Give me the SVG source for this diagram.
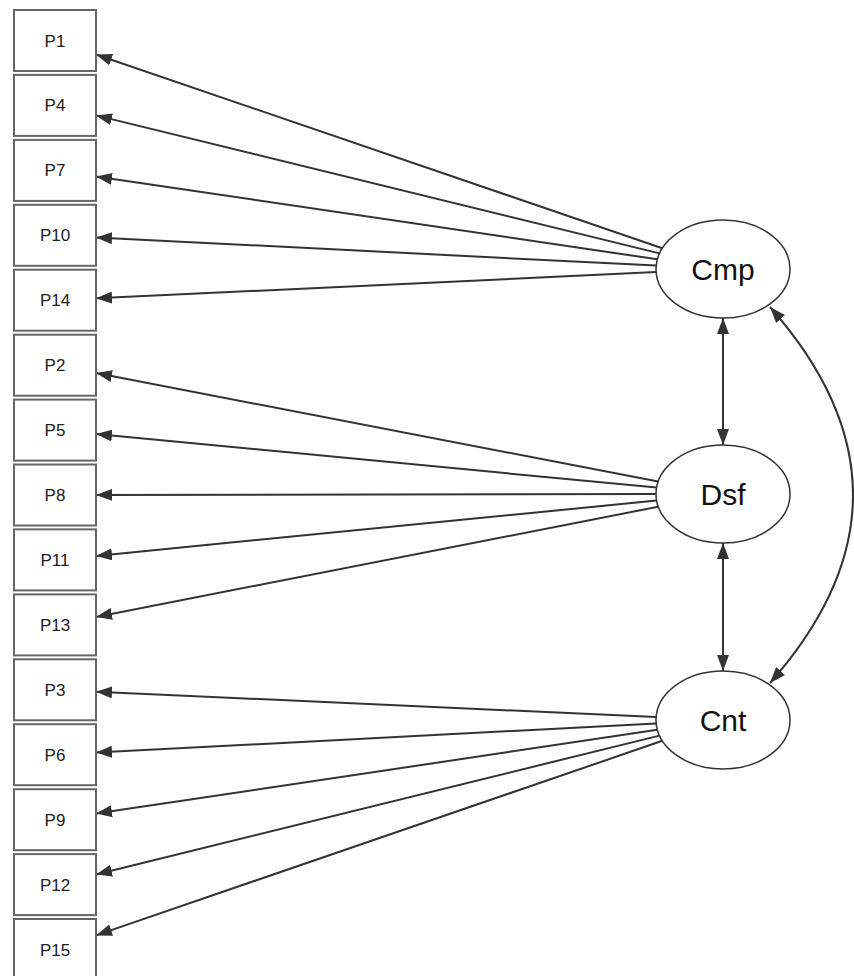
<svg xmlns="http://www.w3.org/2000/svg" width="854" height="976" viewBox="0 0 854 976">
<style>
.box{fill:#fff;stroke:#666;stroke-width:2}
.lat{fill:#fff;stroke:#333;stroke-width:1.5}
.bt{font-family:"Liberation Sans",Arial,sans-serif;font-size:17px;fill:#222;text-anchor:middle}
.lt{font-family:"Liberation Sans",Arial,sans-serif;font-size:30px;fill:#111;text-anchor:middle}
.c{stroke:#333;stroke-width:2;fill:none;marker-end:url(#ah)}
.d{stroke:#333;stroke-width:2;fill:none;marker-end:url(#ah);marker-start:url(#ah)}
</style>
<defs>
<marker id="ah" markerUnits="userSpaceOnUse" markerWidth="16" markerHeight="12" refX="16" refY="6" orient="auto-start-reverse">
<path d="M0,0 L16,6 L0,12 z" fill="#333"/>
</marker>
</defs>
<rect width="854" height="976" fill="#fff"/>
<g id="connectors">
<line class="c" x1="662.3" y1="248.2" x2="96" y2="54.5"/>
<line class="c" x1="659.5" y1="253.4" x2="96" y2="115.4"/>
<line class="c" x1="657.3" y1="259.3" x2="96" y2="176.5"/>
<line class="c" x1="656.2" y1="265.6" x2="96" y2="237.4"/>
<line class="c" x1="656.1" y1="272.1" x2="96" y2="298.3"/>
<line class="c" x1="658.2" y1="481.5" x2="96" y2="373.1"/>
<line class="c" x1="656.6" y1="487.6" x2="96" y2="434.0"/>
<line class="c" x1="656" y1="494.1" x2="96" y2="494.9"/>
<line class="c" x1="656.6" y1="500.6" x2="96" y2="555.9"/>
<line class="c" x1="658.3" y1="506.7" x2="96" y2="616.9"/>
<line class="c" x1="656.1" y1="717.0" x2="96" y2="691.7"/>
<line class="c" x1="656.2" y1="723.5" x2="96" y2="752.6"/>
<line class="c" x1="657.3" y1="729.8" x2="96" y2="813.6"/>
<line class="c" x1="659.5" y1="735.6" x2="96" y2="874.5"/>
<line class="c" x1="662.4" y1="740.8" x2="96" y2="935.4"/>
<line class="d" x1="723" y1="318" x2="723" y2="445"/>
<line class="d" x1="723" y1="543" x2="723" y2="671"/>
<path class="d" d="M770,307 Q936,495 770,683"/>
</g>
<g id="P1"><rect class="box" x="14" y="10" width="82" height="61"/><text class="bt" x="55" y="46.5">P1</text></g>
<g id="P4"><rect class="box" x="14" y="74.9" width="82" height="61"/><text class="bt" x="55" y="111.4">P4</text></g>
<g id="P7"><rect class="box" x="14" y="139.9" width="82" height="61"/><text class="bt" x="55" y="176.4">P7</text></g>
<g id="P10"><rect class="box" x="14" y="204.8" width="82" height="61"/><text class="bt" x="55" y="241.3">P10</text></g>
<g id="P14"><rect class="box" x="14" y="269.7" width="82" height="61"/><text class="bt" x="55" y="306.2">P14</text></g>
<g id="P2"><rect class="box" x="14" y="334.7" width="82" height="61"/><text class="bt" x="55" y="371.2">P2</text></g>
<g id="P5"><rect class="box" x="14" y="399.6" width="82" height="61"/><text class="bt" x="55" y="436.1">P5</text></g>
<g id="P8"><rect class="box" x="14" y="464.5" width="82" height="61"/><text class="bt" x="55" y="501">P8</text></g>
<g id="P11"><rect class="box" x="14" y="529.4" width="82" height="61"/><text class="bt" x="55" y="565.9">P11</text></g>
<g id="P13"><rect class="box" x="14" y="594.4" width="82" height="61"/><text class="bt" x="55" y="630.9">P13</text></g>
<g id="P3"><rect class="box" x="14" y="659.3" width="82" height="61"/><text class="bt" x="55" y="695.8">P3</text></g>
<g id="P6"><rect class="box" x="14" y="724.2" width="82" height="61"/><text class="bt" x="55" y="760.7">P6</text></g>
<g id="P9"><rect class="box" x="14" y="789.2" width="82" height="61"/><text class="bt" x="55" y="825.7">P9</text></g>
<g id="P12"><rect class="box" x="14" y="854.1" width="82" height="61"/><text class="bt" x="55" y="890.6">P12</text></g>
<g id="P15"><rect class="box" x="14" y="919" width="82" height="61"/><text class="bt" x="55" y="955.5">P15</text></g>
<g id="Cmp"><ellipse class="lat" cx="723" cy="269" rx="67" ry="49"/><text class="lt" x="723" y="280">Cmp</text></g>
<g id="Dsf"><ellipse class="lat" cx="723" cy="494" rx="67" ry="49"/><text class="lt" x="723" y="505">Dsf</text></g>
<g id="Cnt"><ellipse class="lat" cx="723" cy="720" rx="67" ry="49"/><text class="lt" x="723" y="731">Cnt</text></g>
</svg>
